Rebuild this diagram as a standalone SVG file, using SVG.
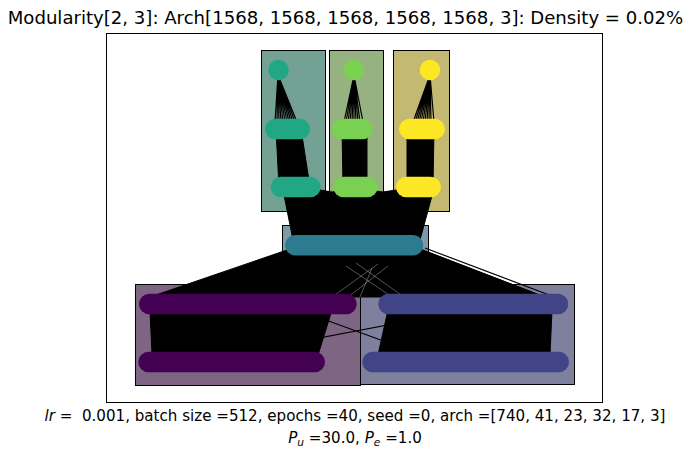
<svg xmlns="http://www.w3.org/2000/svg" width="691" height="459" viewBox="0 0 691 459">
<style>
text{font-family:"DejaVu Sans","Liberation Sans",sans-serif;fill:#000}
.box{stroke:#000;stroke-width:1}
.e{stroke:#000;stroke-width:1.2;fill:none}
.blk{fill:#000;stroke:#000;stroke-width:1}
.hl{stroke:#fff;stroke-width:0.6;opacity:0.55;fill:none}
</style>
<rect x="0" y="0" width="691" height="459" fill="#fff"/>
<text x="345.5" y="24" font-size="18.1" text-anchor="middle">Modularity[2, 3]: Arch[1568, 1568, 1568, 1568, 1568, 3]: Density = 0.02%</text>
<rect x="106.5" y="33.5" width="496" height="369" fill="#fff" stroke="#000" stroke-width="1"/>

<g id="boxes">
<rect class="box" x="261.5" y="50.5" width="64" height="161" fill="#73a294"/>
<rect class="box" x="329.5" y="50.5" width="54" height="161" fill="#96b280"/>
<rect class="box" x="393.5" y="50.5" width="56" height="161" fill="#c3b973"/>
<rect class="box" x="282.5" y="225.5" width="146" height="37" fill="#7d9ba5"/>
<rect class="box" x="135.5" y="284.5" width="225" height="101" fill="#7f6584"/>
<rect class="box" x="360.5" y="284.5" width="214" height="100" fill="#7f7f9e"/>
</g>

<g id="connectors">
<path class="e" d="M278,75L275,122M278,75L277,122M278,75L279,122M278,75L281,122M278,75L283,122M278,75L285,122M278,75L287,122M278,75L289,122M278,75L291,122M278,75L293,122M278,75L295,122M278,75L297,122"/>
<path class="e" d="M354,75L344,122M354,75L346,122M354,75L348,122M354,75L350,122M354,75L352,122M354,75L354,122M354,75L356,122M354,75L358,122M354,75L360,122M354,75L363,122"/>
<path class="e" d="M430,75L413,122M430,75L415,122M430,75L417,122M430,75L419,122M430,75L421,122M430,75L423,122M430,75L425,122M430,75L427,122M430,75L429,122M430,75L431,122M430,75L434,122"/>
<polygon class="blk" points="276,129 301,129 310,187 279,187"/>
<polygon class="blk" points="342,129 367,129 367,187 343,187"/>
<polygon class="blk" points="407,129 434,129 433,187 407,187"/>
<polygon class="blk" points="283,190 320,190 332,192 345,190 368,190 383,192 396,190 433,192 420,240 293,240"/>
<polygon class="blk" points="287,250 423,250 545,297 150,297"/>
<path class="e" d="M425,248L557,298M427,252L552,300"/>
<path class="hl" d="M332,297L378,264M348,297L388,266M392,297L346,266M404,297L356,263M360,297L372,268"/>
<polygon class="blk" points="150,310 332,310 318,355 152,355"/>
<polygon class="blk" points="388,310 552,310 550,355 378,355"/>
<path class="e" d="M282,304L441,362M498,304L193,362"/>
</g>

<g id="module-1">
<circle cx="278.5" cy="70" r="10.3" fill="#22a785"/>
<rect x="265" y="118.7" width="45" height="20.6" rx="10.3" fill="#22a785"/>
<rect x="270.7" y="176.7" width="50" height="20.6" rx="10.3" fill="#22a785"/>
</g>
<g id="module-2">
<circle cx="354" cy="70" r="10.3" fill="#7ad151"/>
<rect x="331.7" y="118.7" width="41" height="20.6" rx="10.3" fill="#7ad151"/>
<rect x="333.3" y="176.7" width="44.4" height="20.6" rx="10.3" fill="#7ad151"/>
</g>
<g id="module-3">
<circle cx="430" cy="70" r="10.3" fill="#fde725"/>
<rect x="399" y="118.7" width="46" height="20.6" rx="10.3" fill="#fde725"/>
<rect x="396" y="176.7" width="45" height="20.6" rx="10.3" fill="#fde725"/>
</g>
<g id="shared-layer">
<rect x="285" y="235" width="138.3" height="20.6" rx="10.3" fill="#2c7b8f"/>
</g>
<g id="module-4">
<rect x="139" y="293.7" width="217.7" height="20.6" rx="10.3" fill="#440154"/>
<rect x="138.3" y="351.7" width="186.7" height="20.6" rx="10.3" fill="#440154"/>
</g>
<g id="module-5">
<rect x="378.3" y="293.7" width="190" height="20.6" rx="10.3" fill="#414487"/>
<rect x="362.3" y="351.7" width="206.7" height="20.6" rx="10.3" fill="#414487"/>
</g>

<text x="355" y="421" font-size="15.1" text-anchor="middle" xml:space="preserve"><tspan font-style="italic">lr</tspan> =  0.001, batch size =512, epochs =40, seed =0, arch =[740, 41, 23, 32, 17, 3]</text>
<text x="355" y="443" font-size="15.1" text-anchor="middle"><tspan font-style="italic">P</tspan><tspan font-style="italic" font-size="10.6" dy="2.8">u</tspan><tspan dy="-2.8"> =30.0, </tspan><tspan font-style="italic">P</tspan><tspan font-style="italic" font-size="10.6" dy="2.8">e</tspan><tspan dy="-2.8"> =1.0</tspan></text>
</svg>
